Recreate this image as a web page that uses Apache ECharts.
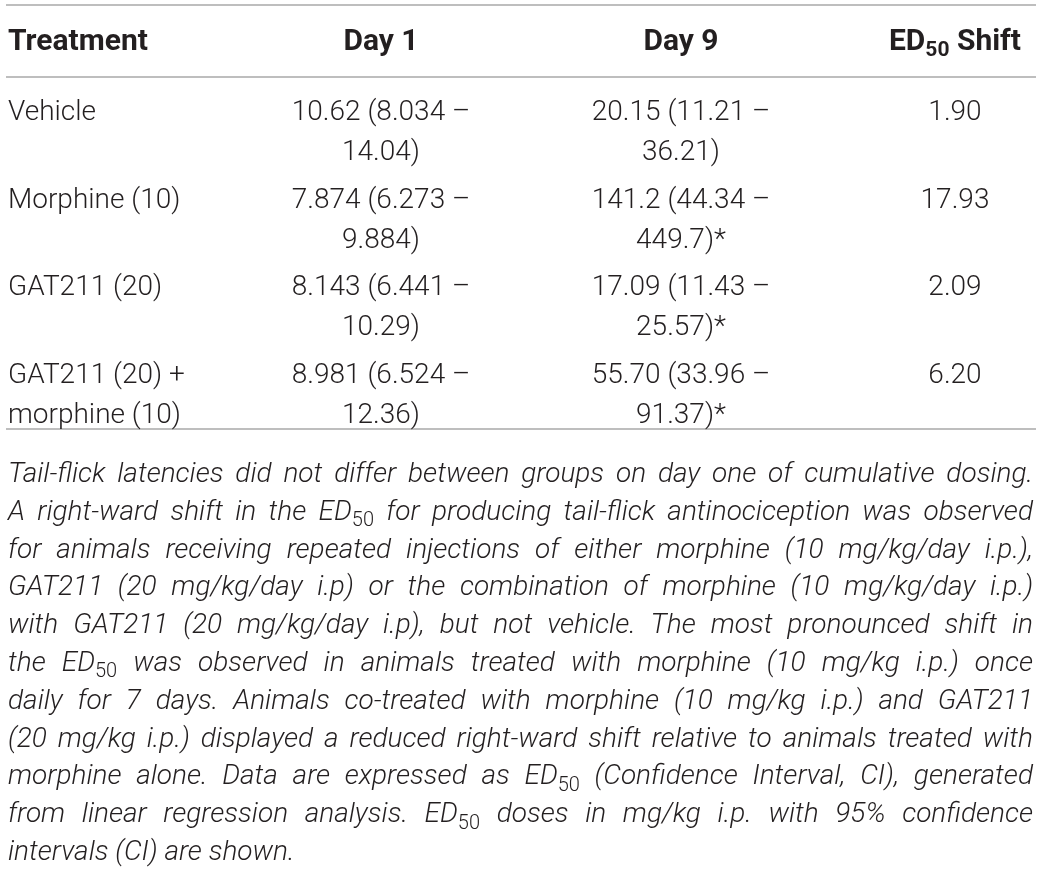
<!DOCTYPE html>
<html>
<head>
<meta charset="utf-8">
<script src="https://cdn.jsdelivr.net/npm/echarts@6/dist/echarts.min.js"></script>
<style>
  html, body { margin: 0; background: #fff; }
  #main { width: 1043px; height: 870px; }
</style>
</head>
<body>
<div id="main"></div>
<script>
// table content
var treatments = ['Vehicle', 'Morphine (10)', 'GAT211 (20)', 'GAT211 (20) +\nmorphine (10)'];
var day1Ed50 = ['10.62', '7.874', '8.143', '8.981'];
var day1Low = ['8.034', '6.273', '6.441', '6.524'];
var day1High = ['14.04', '9.884', '10.29', '12.36'];
var day9Ed50 = ['20.15', '141.2', '17.09', '55.70'];
var day9Low = ['11.21', '44.34', '11.43', '33.96'];
var day9High = ['36.21', '449.7', '25.57', '91.37'];
var day9Flag = ['', '*', '*', '*'];
var ed50Shift = ['1.90', '17.93', '2.09', '6.20'];

// caption, one entry per printed line; ED_50 = subscript
var captionLines = [
    'Tail-flick latencies did not differ between groups on day one of cumulative dosing.',
    'A right-ward shift in the ED_50 for producing tail-flick antinociception was observed',
    'for animals receiving repeated injections of either morphine (10 mg/kg/day i.p.),',
    'GAT211 (20 mg/kg/day i.p) or the combination of morphine (10 mg/kg/day i.p.)',
    'with GAT211 (20 mg/kg/day i.p), but not vehicle. The most pronounced shift in',
    'the ED_50 was observed in animals treated with morphine (10 mg/kg i.p.) once',
    'daily for 7 days. Animals co-treated with morphine (10 mg/kg i.p.) and GAT211',
    '(20 mg/kg i.p.) displayed a reduced right-ward shift relative to animals treated with',
    'morphine alone. Data are expressed as ED_50 (Confidence Interval, CI), generated',
    'from linear regression analysis. ED_50 doses in mg/kg i.p. with 95% confidence',
    'intervals (CI) are shown.'
];

var FAMILY = 'Roboto, "Liberation Sans", sans-serif';
var INK = '#231f20';
var colX = [8, 381, 681, 955];
var colAlign = ['left', 'center', 'center', 'center'];
var bodyFont = { style: 'normal', weight: 300, size: 28 };
var headFont = { style: 'normal', weight: 'bold', size: 30 };
var capFont = { style: 'italic', weight: 300, size: 28 };

var ctx = document.createElement('canvas').getContext('2d');
function measure(t, f) {
    ctx.font = f.style + ' ' + f.weight + ' ' + f.size + 'px ' + FAMILY;
    return ctx.measureText(t).width;
}
function subFont(f) {
    return { style: 'normal', weight: f.weight, size: Math.round(f.size * 0.7) };
}
function parseWord(w) {
    var k = w.indexOf('_');
    if (k < 0) return [{ t: w }];
    return [{ t: w.slice(0, k) }, { t: w.slice(k + 1), sub: true }];
}
function partsWidth(parts, f) {
    var s = 0;
    parts.forEach(function (p) { s += measure(p.t, p.sub ? subFont(f) : f); });
    return s;
}
// text pieces laid left to right from x, vertically centred on y
function runElements(parts, x, y, f, scale) {
    var out = [];
    parts.forEach(function (p) {
        var ff = p.sub ? subFont(f) : f;
        out.push({
            type: 'text', x: x, y: y + (p.sub ? f.size * 0.3 : 0), scaleX: scale,
            style: {
                text: p.t, fill: INK, fontFamily: FAMILY, fontSize: ff.size,
                fontWeight: ff.weight, fontStyle: ff.style,
                align: 'left', verticalAlign: 'middle'
            }
        });
        x += measure(p.t, ff) * scale;
    });
    return out;
}

var graphics = [];
// rules
[5, 77, 429].forEach(function (y) {
    graphics.push({ type: 'line', shape: { x1: 6, y1: y, x2: 1036, y2: y },
        style: { stroke: '#a9a9a9', lineWidth: 1.5 } });
});
// header
var headers = [[{ t: 'Treatment' }], [{ t: 'Day 1' }], [{ t: 'Day 9' }],
    [{ t: 'ED' }, { t: '50', sub: true }, { t: ' Shift' }]];
headers.forEach(function (parts, c) {
    var w = partsWidth(parts, headFont);
    var x = colAlign[c] === 'left' ? colX[c] : colX[c] - w / 2;
    graphics = graphics.concat(runElements(parts, x, 42, headFont, 1));
});
// caption, justified
var capLeft = 8, capRight = 1033, capTop = 475, capStep = 37.8;
captionLines.forEach(function (line, li) {
    var words = line.split(' ').map(parseWord);
    var widths = words.map(function (p) { return partsWidth(p, capFont); });
    var total = widths.reduce(function (a, b) { return a + b; }, 0);
    var space = measure(' ', capFont);
    var n = words.length;
    var natural = total + space * (n - 1);
    var avail = capRight - capLeft;
    var scale = 1, gap = space;
    if (natural > avail) scale = avail / natural;
    else if (li < captionLines.length - 1) gap = (avail - total) / (n - 1);
    var x = capLeft, y = capTop + li * capStep;
    words.forEach(function (parts, wi) {
        graphics = graphics.concat(runElements(parts, x, y, capFont, scale));
        x += (widths[wi] + gap) * scale;
    });
});

function cellTexts(i) {
    return [
        treatments[i],
        day1Ed50[i] + ' (' + day1Low[i] + ' \u2013\n' + day1High[i] + ')',
        day9Ed50[i] + ' (' + day9Low[i] + ' \u2013\n' + day9High[i] + ')' + day9Flag[i],
        ed50Shift[i]
    ];
}

var chart = echarts.init(document.getElementById('main'));
chart.setOption({
    animation: false,
    backgroundColor: '#fff',
    grid: { left: 0, right: 0, top: 80, bottom: 440 },
    xAxis: { type: 'value', min: 0, max: 1043, show: false },
    yAxis: { type: 'category', data: treatments, inverse: true, show: false },
    graphic: graphics,
    series: [{
        type: 'custom',
        data: treatments.map(function (t, i) { return [0, i]; }),
        encode: { x: 0, y: 1 },
        renderItem: function (params, api) {
            var i = api.value(1);
            var top = api.coord([0, i])[1] - api.size([0, 1])[1] / 2;
            return {
                type: 'group',
                children: cellTexts(i).map(function (t, c) {
                    return {
                        type: 'text',
                        x: api.coord([colX[c], i])[0],
                        y: top + 13,
                        style: {
                            text: t, fill: INK, fontFamily: FAMILY,
                            fontSize: bodyFont.size, fontWeight: bodyFont.weight,
                            align: colAlign[c], verticalAlign: 'top', lineHeight: 40
                        }
                    };
                })
            };
        }
    }]
});
</script>
</body>
</html>
